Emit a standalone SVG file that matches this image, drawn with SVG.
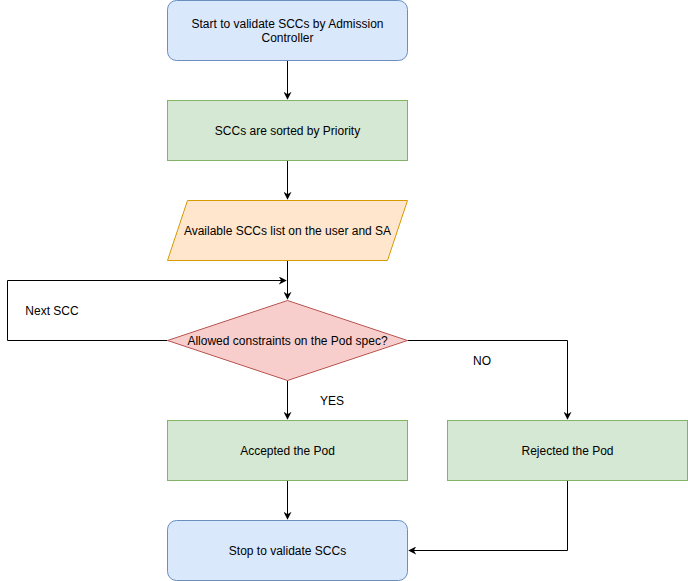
<svg xmlns="http://www.w3.org/2000/svg" width="688" height="581" viewBox="0 0 688 581">
<defs>
<style>
text{font-family:"Liberation Sans",Arial,Helvetica,sans-serif;font-size:12px;fill:#000;text-anchor:middle}
.blue{fill:#dae8fc;stroke:#6c8ebf}
.green{fill:#d5e8d4;stroke:#82b366}
.orange{fill:#ffe6cc;stroke:#d79b00}
.red{fill:#f8cecc;stroke:#b85450}
.edge{fill:none;stroke:#000;stroke-width:1}
</style>
<marker id="arr" viewBox="0 0 10 10" refX="9" refY="5" markerWidth="8" markerHeight="8" markerUnits="userSpaceOnUse" orient="auto">
<path d="M0,0 L10,5 L0,10 L3,5 Z" fill="#000"/>
</marker>
</defs>
<rect width="688" height="581" fill="#fff"/>
<g id="connectors">
<path class="edge" d="M287.5,60.5 V99" marker-end="url(#arr)"/>
<path class="edge" d="M287.5,160.5 V199" marker-end="url(#arr)"/>
<path class="edge" d="M287.5,260.5 V299" marker-end="url(#arr)"/>
<path class="edge" d="M167.5,340.5 H7.5 V280.5 H286" marker-end="url(#arr)"/>
<path class="edge" d="M407.5,340.5 H567.5 V419" marker-end="url(#arr)"/>
<path class="edge" d="M287.5,380.5 V419" marker-end="url(#arr)"/>
<path class="edge" d="M287.5,480.5 V519" marker-end="url(#arr)"/>
<path class="edge" d="M567.5,480.5 V550.5 H409" marker-end="url(#arr)"/>
<text x="52" y="314.5">Next SCC</text>
<text x="482" y="364.5">NO</text>
<text x="332" y="404.5">YES</text>
</g>
<g id="start">
<rect class="blue" x="167.5" y="0.5" width="240" height="60" rx="9"/>
<text x="287.5" y="27.5">Start to validate SCCs by Admission</text>
<text x="287.5" y="41.5">Controller</text>
</g>
<g id="sorted">
<rect class="green" x="167.5" y="100.5" width="240" height="60"/>
<text x="287.5" y="134.5">SCCs are sorted by Priority</text>
</g>
<g id="available">
<path class="orange" d="M187.5,200.5 H407.5 L387.5,260.5 H167.5 Z"/>
<text x="287.5" y="234.5">Available SCCs list on the user and SA</text>
</g>
<g id="decision">
<path class="red" d="M287.5,300.5 L407.5,340.5 L287.5,380.5 L167.5,340.5 Z"/>
<text x="287.5" y="344.5">Allowed constraints on the Pod spec?</text>
</g>
<g id="accepted">
<rect class="green" x="167.5" y="420.5" width="240" height="60"/>
<text x="287.5" y="454.5">Accepted the Pod</text>
</g>
<g id="rejected">
<rect class="green" x="447.5" y="420.5" width="240" height="60"/>
<text x="567.5" y="454.5">Rejected the Pod</text>
</g>
<g id="stop">
<rect class="blue" x="167.5" y="520.5" width="240" height="60" rx="9"/>
<text x="287.5" y="554.5">Stop to validate SCCs</text>
</g>
</svg>
